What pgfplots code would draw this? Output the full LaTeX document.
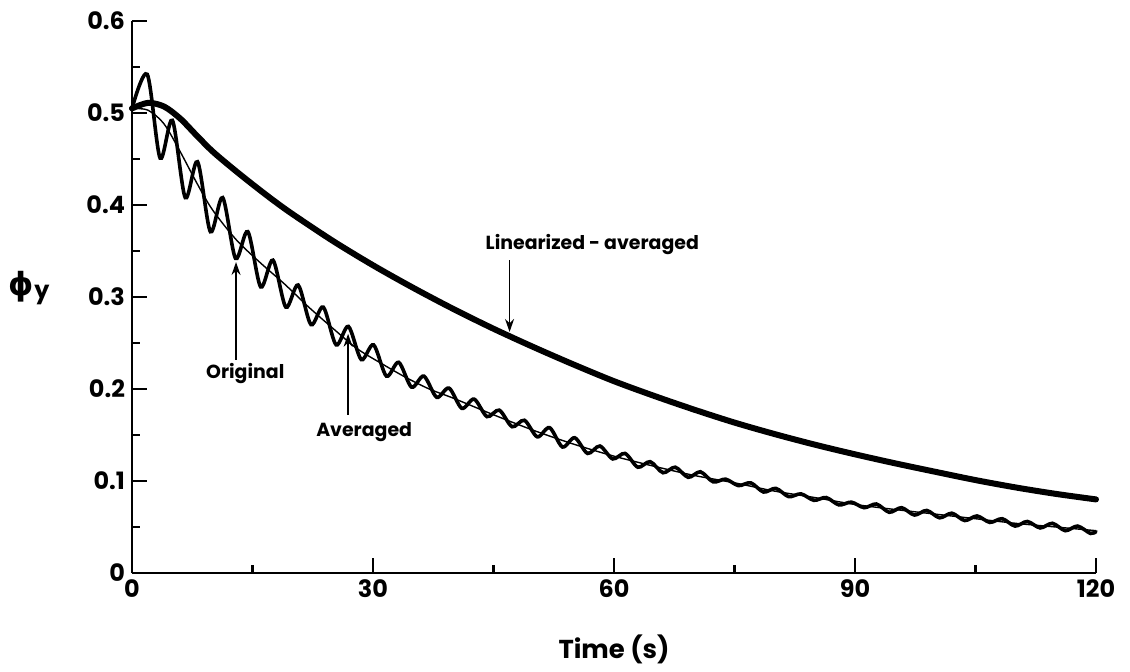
\documentclass[border=0pt]{standalone}
\usepackage{fontspec}
\setmainfont{Poppins}
\newfontfamily\dejavu{DejaVu Sans}
\usepackage{pgfplots}
\pgfplotsset{compat=1.18}
\usetikzlibrary{arrows.meta}

\begin{document}
\begin{tikzpicture}
\begin{axis}[
    scale only axis,
    width=482bp, height=276bp,
    xmin=0, xmax=120, ymin=0, ymax=0.6,
    axis x line=bottom, axis y line=left,
    axis line style={-, line width=1.4bp},
    xtick={0,30,60,90,120},
    xticklabels={0,30,60,90,120},
    ytick={0,0.1,0.2,0.3,0.4,0.5,0.6},
    yticklabels={0,0.1,0.2,0.3,0.4,0.5,0.6},
    minor xtick={15,45,75,105},
    minor ytick={0.05,0.15,0.25,0.35,0.45,0.55},
    tick align=inside,
    major tick length=7.5bp, minor tick length=4bp,
    tick style={line width=1.1bp, black},
    ticklabel style={font=\fontsize{12}{14}\selectfont\bfseries},
    clip=false,
]
% linearized-averaged
\addplot[black, line width=3bp, smooth, line cap=round] coordinates {
(0,0.505) (2,0.511) (4,0.507) (6,0.494) (8,0.476) (10,0.4585) (12.5,0.440)
(15,0.4225) (17.5,0.4057) (20,0.390) (25,0.361) (30,0.3345) (35,0.310)
(40,0.287) (45,0.2655) (50,0.2455) (55,0.2265) (60,0.2085) (65,0.1925)
(70,0.1775) (75,0.1635) (80,0.151) (85,0.1395) (90,0.129) (95,0.1192)
(100,0.110) (105,0.101) (110,0.093) (115,0.086) (120,0.080)};
% averaged
\addplot[black, line width=0.7bp, smooth] coordinates {
(0,0.505) (2,0.503) (4,0.488) (6,0.458) (8,0.425) (10,0.395) (13,0.362)
(16,0.337) (19,0.314) (22,0.289) (25,0.266) (28,0.244) (31,0.228)
(34,0.213) (37,0.200) (40,0.190) (45,0.172) (50,0.155) (55,0.140)
(60,0.127) (65,0.116) (70,0.106) (75,0.098) (80,0.089) (85,0.082)
(90,0.0745) (95,0.069) (100,0.064) (105,0.059) (110,0.054) (115,0.050)
(120,0.046)};
% original
\addplot[black, line width=1.8bp, smooth, line cap=round] coordinates {
(0,0.505) (1.90,0.542) (3.50,0.451) (5.03,0.492) (6.63,0.408)
(8.16,0.447) (9.76,0.371) (11.29,0.408) (12.89,0.342) (14.42,0.371)
(16.02,0.311) (17.55,0.340) (19.15,0.289) (20.68,0.313) (22.28,0.270)
(23.81,0.289) (25.41,0.248) (26.94,0.268) (28.54,0.232) (30.07,0.248)
(31.67,0.214) (33.20,0.229) (34.80,0.202) (36.33,0.214) (37.93,0.191)
(39.46,0.201) (41.06,0.179) (42.59,0.189) (44.19,0.170) (45.72,0.177)
(47.32,0.159) (48.85,0.166) (50.45,0.148) (51.98,0.158) (53.58,0.137)
(55.11,0.147) (56.71,0.130) (58.24,0.138) (59.84,0.124) (61.37,0.130)
(62.97,0.115) (64.50,0.121) (66.10,0.109) (67.63,0.115) (69.23,0.104)
(70.76,0.110) (72.36,0.099) (73.89,0.102) (75.49,0.095) (77.02,0.098)
(78.62,0.088) (80.15,0.092) (81.75,0.083) (83.28,0.086) (84.88,0.079)
(86.41,0.082) (88.01,0.074) (89.54,0.077) (91.14,0.071) (92.67,0.075)
(94.27,0.066) (95.80,0.071) (97.40,0.063) (98.93,0.068) (100.53,0.060)
(102.06,0.065) (103.66,0.057) (105.19,0.062) (106.79,0.055) (108.32,0.059)
(109.92,0.051) (111.45,0.056) (113.05,0.049) (114.58,0.054) (116.18,0.046)
(117.71,0.051) (119.31,0.043) (120,0.045)};

% annotations
\node[font=\fontsize{9.5}{11}\selectfont\bfseries] at (axis cs:57.3,0.357) {Linearized - averaged};
\draw[-{Stealth[length=6.5bp,width=4.5bp]}, line width=0.8bp] (axis cs:47,0.340) -- (axis cs:47,0.262);
\node[font=\fontsize{9.5}{11}\selectfont\bfseries] at (axis cs:14.1,0.217) {Original};
\draw[-{Stealth[length=6.5bp,width=4.5bp]}, line width=0.8bp] (axis cs:12.95,0.232) -- (axis cs:12.95,0.338);
\node[font=\fontsize{9.5}{11}\selectfont\bfseries] at (axis cs:28.9,0.153) {Averaged};
\draw[-{Stealth[length=6.5bp,width=4.5bp]}, line width=0.8bp] (axis cs:26.9,0.172) -- (axis cs:26.9,0.260);

% axis titles
\node at (axis cs:-12.8,0.31) {{\dejavu\bfseries\fontsize{16}{18}\selectfont ϕ}\raisebox{-1.5bp}{\fontsize{12}{14}\selectfont\bfseries y}};
\node[font=\fontsize{13}{15}\selectfont\bfseries] at (axis cs:60,0) [yshift=-38bp] {Time (s)};
\end{axis}
\pgfresetboundingbox
\path (current axis.south west) ++(-66bp,-49.5bp) rectangle ++(565bp,336bp);
\end{tikzpicture}
\end{document}
